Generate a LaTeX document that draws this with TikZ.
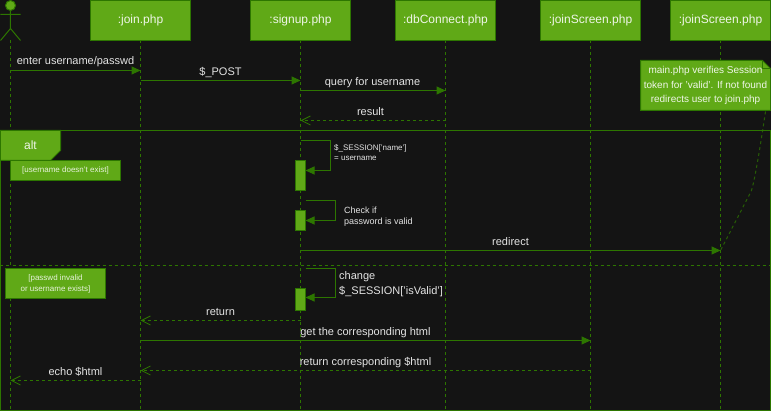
\documentclass[tikz,border=0pt]{standalone}
\usepackage{fontspec}
\setmainfont{Liberation Sans}
\usetikzlibrary{arrows.meta,positioning,calc}
\definecolor{bgdark}{HTML}{141414}
\definecolor{boxfill}{HTML}{60A917}
\definecolor{boxline}{HTML}{2D7600}
\definecolor{labeltext}{HTML}{E4E4E4}
\tikzset{
  lifebox/.style={draw=boxline,fill=boxfill,line width=1pt,minimum width=100pt,minimum height=40pt,outer sep=0pt,inner sep=0pt,text=white!90!boxfill,font=\fontsize{12}{14}\selectfont},
  lifeline/.style={draw=boxline,line width=1pt,dash pattern=on 3pt off 3pt},
  actband/.style={draw=boxline,fill=boxfill,line width=1pt,minimum width=10pt,outer sep=0pt,inner sep=0pt},
  guardbox/.style={draw=boxline,fill=boxfill,line width=1pt,outer sep=0pt,inner sep=0pt,align=center,text=white!85!boxfill,font=\fontsize{8}{11}\selectfont},
  msg/.style={draw=boxline,line width=1pt,-{Triangle[length=9pt,width=8pt,fill=boxline]}},
  reply/.style={draw=boxline,line width=1pt,dash pattern=on 3pt off 3pt,-{Straight Barb[length=9pt,width=9pt,line width=0.8pt]}},
  msglabel/.style={text=labeltext,font=\fontsize{11}{13}\selectfont,inner sep=0pt}
}
\begin{document}
\begin{tikzpicture}[x=1pt,y=-1pt]
  \useasboundingbox (-0.5,-0.5) rectangle (770.5,410.5);
  \fill[bgdark] (-0.5,-0.5) rectangle (770.5,410.5);

  % lifelines and their heads
  \coordinate (user) at (10,40);
  \coordinate (userend) at (10,410);
  \draw[lifeline] (user) -- (userend);
  \foreach \name/\x/\lbl in {join/140/:join.php,signup/300/:signup.php,dbconn/445/:dbConnect.php,screenA/590/:joinScreen.php,screenB/720/:joinScreen.php}{
    \node[lifebox] (\name) at (\x,20) {\lbl};
    \coordinate (\name end) at (\x,410);
    \draw[lifeline] (\name) -- (\name end);
  }

  % actor
  \draw[boxline,fill=boxfill,line width=1pt] (10,5) circle (5);
  \draw[boxline,line width=1pt] (10,10) -- (10,28) (0,14) -- (20,14) (0,40) -- (10,28) -- (20,40);

  % alt frame
  \draw[boxline,line width=1pt] (0,130) rectangle (770,410);
  \coordinate (altsplitA) at (0,265);
  \coordinate (altsplitB) at (770,265);
  \draw[lifeline] (altsplitA) -- (altsplitB);
  \draw[boxline,fill=boxfill,line width=1pt] (0,130) -- (60,130) -- (60,150) -- (50,160) -- (0,160) -- cycle;
  \node[text=white!90!boxfill,font=\fontsize{12}{14}\selectfont] (alt) at (30,145) {alt};
  \node[guardbox,minimum width=110pt,minimum height=20pt] (guardA) at (65,170) {[username doesn't exist]};
  \node[guardbox,minimum width=100pt,minimum height=30pt] (guardB) at (55,283) {[passwd invalid\\or username exists]};

  % activations
  \node[actband,minimum height=30pt] (actA) at (300,175) {};
  \node[actband,minimum height=20pt] (actB) at (300,220) {};
  \node[actband,minimum height=22pt] (actC) at (300,299) {};

  % messages
  \coordinate (enterA) at (10,70);
  \coordinate (enterB) at (140,70);
  \draw[msg] (enterA) -- (enterB) node[msglabel,midway,above=3.5pt] (enterL) {enter username/passwd};
  \coordinate (postA) at (140,80);
  \coordinate (postB) at (300,80);
  \draw[msg] (postA) -- (postB) node[msglabel,midway,above=2.5pt] (postL) {\$\_POST};
  \coordinate (queryA) at (300,90);
  \coordinate (queryB) at (445,90);
  \draw[msg] (queryA) -- (queryB) node[msglabel,midway,above=2.5pt,xshift=-0.5pt] (queryL) {query for username};
  \coordinate (resultA) at (445,120);
  \coordinate (resultB) at (300,120);
  \draw[reply] (resultA) -- (resultB) node[msglabel,midway,above=4.5pt,xshift=-2.5pt] (resultL) {result};
  \coordinate (redirA) at (300,250);
  \coordinate (redirB) at (720,250);
  \draw[msg] (redirA) -- (redirB) node[msglabel,midway,above=4.5pt] (redirL) {redirect};
  \coordinate (retA) at (300,320);
  \coordinate (retB) at (140,320);
  \draw[reply] (retA) -- (retB) node[msglabel,midway,above=4.5pt] (retL) {return};
  \coordinate (getA) at (140,340);
  \coordinate (getB) at (590,340);
  \draw[msg] (getA) -- (getB) node[msglabel,midway,above=2.5pt] (getL) {get the corresponding html};
  \coordinate (backA) at (590,370);
  \coordinate (backB) at (140,370);
  \draw[reply] (backA) -- (backB) node[msglabel,midway,above=2.5pt] (backL) {return corresponding \$html};
  \coordinate (echoA) at (140,380);
  \coordinate (echoB) at (10,380);
  \draw[reply] (echoA) -- (echoB) node[msglabel,midway,above=4pt] (echoL) {echo \$html};

  % self calls
  \coordinate (selfA) at (300,140);
  \coordinate (selfB) at (305,200);
  \coordinate (selfC) at (305,268);
  \draw[msg] (selfA) -- (330,140) -- (330,170) -- (actA.east |- 0,170);
  \draw[msg] (selfB) -- (335,200) -- (335,220) -- (actB.east |- 0,220);
  \draw[msg] (selfC) -- (335,268) -- (335,297) -- (actC.east |- 0,297);
  \node[anchor=west,align=left,text=labeltext,inner sep=0pt,font=\fontsize{8}{10.5}\selectfont] (selfAL) at (333.5,152) {\$\_SESSION['name']\\= username};
  \node[anchor=west,align=left,text=labeltext,inner sep=0pt,font=\fontsize{9}{11}\selectfont] (selfBL) at (343.5,216) {Check if\\password is valid};
  \node[anchor=west,align=left,text=labeltext,inner sep=0pt,font=\fontsize{11}{14.5}\selectfont] (selfCL) at (338.5,283.5) {change\\\$\_SESSION['isValid']};

  % note
  \draw[boxline,fill=boxfill,line width=1pt] (640,60) -- (762,60) -- (770,68) -- (770,110) -- (640,110) -- cycle;
  \draw[boxline,line width=1pt] (762,60) -- (762,68) -- (770,68);
  \node[align=center,text=white!90!boxfill,font=\fontsize{10}{14.5}\selectfont] (note) at (705,85) {main.php verifies Session\\token for 'valid'. If not found\\redirects user to join.php};
  \coordinate (noteout) at (765,111);
  \draw[boxline,line width=1pt,dash pattern=on 3pt off 3pt,opacity=0.75] (noteout) .. controls (757,165) and (752,190) .. (750,192) -- (redirB);
\end{tikzpicture}
\end{document}
